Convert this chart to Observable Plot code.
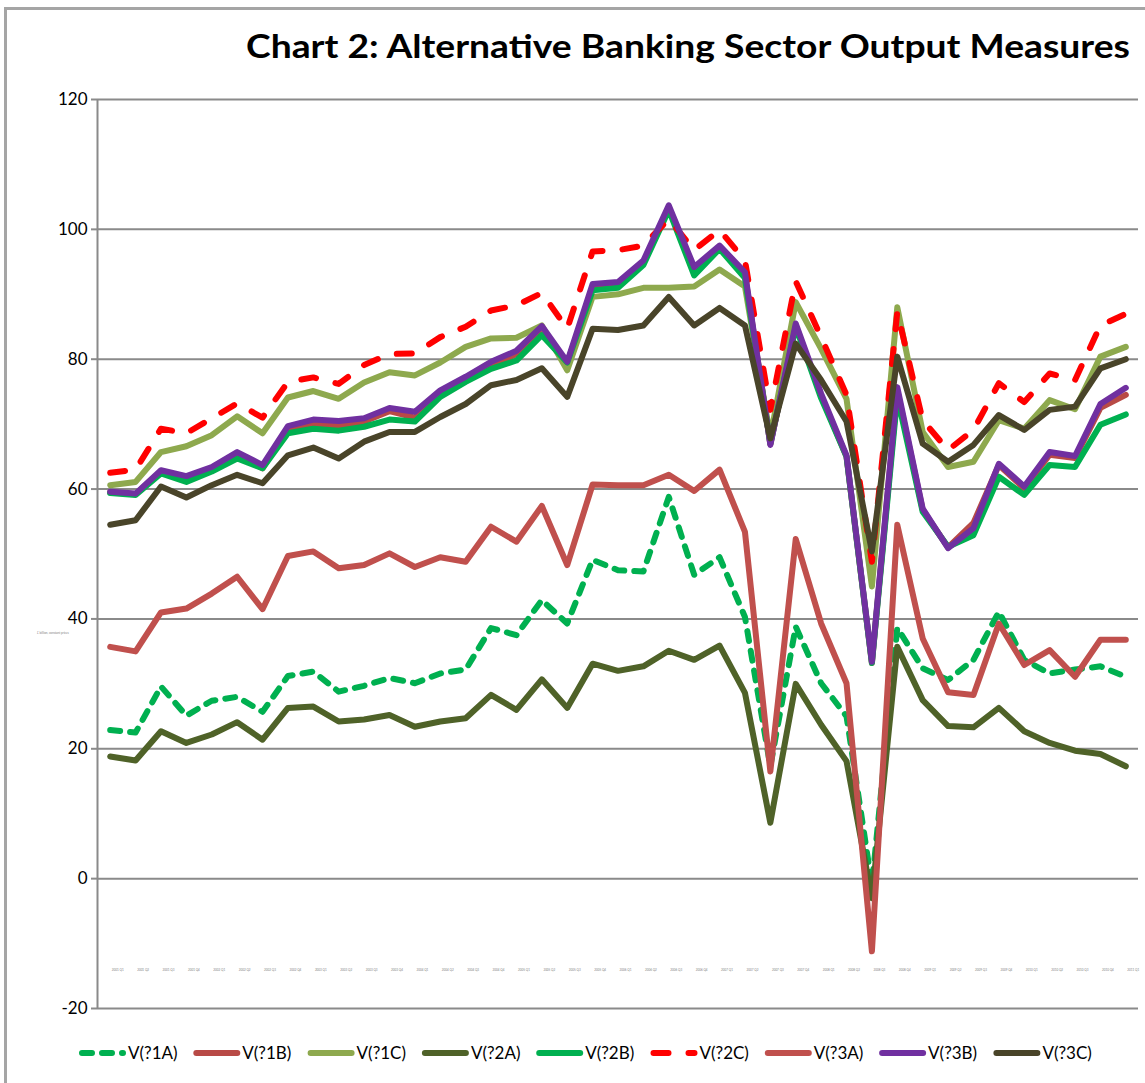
<!DOCTYPE html>
<html>
<head>
<meta charset="utf-8">
<script src="https://cdn.jsdelivr.net/npm/d3@7"></script>
<script src="https://cdn.jsdelivr.net/npm/@observablehq/plot@0.6"></script>
<style>
  body { margin: 0; background: #fff; }
  #frame { position: relative; width: 1145px; height: 1083px; overflow: hidden; background: #fff; font-family: Lato, "Open Sans", sans-serif; }
  #border { position: absolute; left: 4px; top: 7px; width: 1300px; height: 1300px; border-top: 3px solid #a5a5a5; border-left: 3px solid #a5a5a5; }
  #title { position: absolute; left: 0; top: 0; }
  #chart { position: absolute; left: 0; top: 80px; }
  #legend { position: absolute; left: 0; top: 1030px; }
  #ytitle { position: absolute; left: 0; top: 620px; }
</style>
</head>
<body>
<div id="frame">
  <div id="border"></div>
  <div id="title"></div>
  <div id="chart"></div>
  <div id="ytitle"></div>
  <div id="legend"></div>
</div>
<script>
// ---- data ----
const quarters = [
  "2001 Q1","2001 Q2","2001 Q3","2001 Q4","2002 Q1","2002 Q2","2002 Q3","2002 Q4",
  "2003 Q1","2003 Q2","2003 Q3","2003 Q4","2004 Q1","2004 Q2","2004 Q3","2004 Q4",
  "2005 Q1","2005 Q2","2005 Q3","2005 Q4","2006 Q1","2006 Q2","2006 Q3","2006 Q4",
  "2007 Q1","2007 Q2","2007 Q3","2007 Q4","2008 Q1","2008 Q2","2008 Q3","2008 Q4",
  "2009 Q1","2009 Q2","2009 Q3","2009 Q4","2010 Q1","2010 Q2","2010 Q3","2010 Q4",
  "2011 Q1"
];
const seriesNames = ["V(?1A)","V(?1B)","V(?1C)","V(?2A)","V(?2B)","V(?2C)","V(?3A)","V(?3B)","V(?3C)"];
const yTicks = [-20, 0, 20, 40, 60, 80, 100, 120];

const v1A = [22.9,22.5,29.6,25.1,27.4,28.0,25.7,31.2,31.9,28.8,29.7,30.9,30.1,31.6,32.2,38.6,37.5,42.9,39.3,49.1,47.5,47.3,58.8,46.8,49.5,40.3,17.3,38.8,30.1,25.0,-1.0,38.6,32.4,30.6,33.7,41.1,33.7,31.6,32.2,32.7,31.1];
const v1B = [59.5,59.2,62.7,61.8,63.1,65.3,63.2,69.3,70.0,69.8,70.4,72.0,71.0,74.8,76.9,79.0,80.8,84.5,79.0,91.2,91.6,94.9,103.4,93.8,97.2,93.0,66.9,85.2,74.4,65.0,33.2,75.2,56.8,51.0,54.8,63.7,60.1,65.3,64.8,72.5,74.5];
const v1C = [60.6,61.1,65.7,66.6,68.3,71.2,68.6,74.1,75.1,73.9,76.4,78.0,77.5,79.5,81.9,83.2,83.3,85.2,78.3,89.6,90.0,91.0,91.0,91.2,93.8,91.2,68.0,88.8,81.6,73.9,45.0,88.0,68.8,63.4,64.2,70.6,69.3,73.7,72.3,80.4,81.9];
const v2A = [18.8,18.2,22.7,20.9,22.2,24.1,21.4,26.3,26.5,24.2,24.5,25.2,23.4,24.2,24.7,28.3,26.0,30.7,26.3,33.1,32.0,32.7,35.1,33.7,35.9,28.6,8.6,30.0,23.7,18.1,-3.0,35.7,27.5,23.5,23.3,26.3,22.7,20.9,19.7,19.2,17.3];
const v2B = [59.4,59.1,62.4,61.1,62.7,64.7,63.2,68.6,69.3,69.0,69.6,70.7,70.4,74.2,76.5,78.5,79.8,83.7,79.5,90.6,91.0,94.5,103.0,92.9,97.0,92.5,67.0,85.0,74.0,65.0,33.2,74.2,56.5,51.1,52.9,61.9,59.1,63.7,63.4,69.9,71.5];
const v2C = [62.5,63.0,69.3,68.6,70.9,73.2,71.0,76.5,77.2,76.2,79.1,80.8,80.9,83.4,85.0,87.5,88.3,90.2,84.7,96.6,96.8,97.5,101.6,96.8,99.9,95.2,72.2,92.0,83.4,74.5,48.8,87.3,70.6,66.0,69.1,76.3,73.4,77.8,76.8,85.2,87.0];
const v3A = [35.7,35.0,41.0,41.6,43.9,46.5,41.5,49.7,50.4,47.8,48.3,50.1,48.0,49.5,48.8,54.2,51.9,57.4,48.3,60.7,60.6,60.6,62.2,59.7,63.0,53.4,16.5,52.3,39.3,30.1,-11.2,54.5,37.0,28.7,28.3,39.3,32.9,35.2,31.1,36.8,36.8];
const v3B = [59.6,59.3,62.9,62.0,63.4,65.7,63.7,69.7,70.7,70.5,70.9,72.5,71.9,75.2,77.3,79.6,81.3,85.1,79.6,91.6,91.9,95.2,103.7,94.2,97.5,93.4,66.8,85.5,74.7,65.2,33.4,75.7,57.0,50.9,54.0,63.9,60.4,65.7,65.1,73.1,75.6];
const v3C = [54.5,55.2,60.4,58.7,60.6,62.2,60.9,65.2,66.4,64.7,67.3,68.8,68.8,71.1,73.1,76.0,76.8,78.6,74.2,84.7,84.5,85.2,89.6,85.2,87.9,85.2,67.8,82.4,76.8,70.4,50.4,80.4,67.0,64.2,66.8,71.4,69.1,72.2,72.7,78.6,80.0];

// ---- styles ----
const seriesValues = [v1A, v1B, v1C, v2A, v2B, v2C, v3A, v3B, v3C];
const seriesColors = ["#00B050","#B84A46","#8EA94E","#4F6228","#00B050","#FF0000","#C0504D","#7030A0","#494429"];
const seriesDash = ["10,10", null, null, null, null, "15,20", null, null, null];
const lineWidth = 6;

const rows = seriesNames.flatMap((name, s) =>
  seriesValues[s].map((v, i) => ({series: name, s, i, q: quarters[i], v})));

const lineMarks = seriesNames.map((name, s) =>
  Plot.line(rows.filter(d => d.s === s), {
    x: "i", y: "v",
    stroke: seriesColors[s],
    strokeWidth: lineWidth,
    strokeDasharray: seriesDash[s] || undefined,
    strokeLinecap: "round",
    strokeLinejoin: "round"
  }));

const gridColor = "#8a8a8a";

const chart = Plot.plot({
  width: 1145,
  height: 950,
  marginLeft: 97,
  marginRight: 7,
  marginTop: 19,
  marginBottom: 22,
  style: {fontFamily: "Lato, 'Open Sans', sans-serif", fontSize: "17px", color: "#000", background: "transparent"},
  x: {type: "linear", domain: [-0.5, quarters.length - 0.5], axis: null},
  y: {domain: [-20, 120], axis: null},
  marks: [
    Plot.ruleY(yTicks, {stroke: gridColor, strokeWidth: 2}),
    Plot.ruleX([-0.5], {stroke: gridColor, strokeWidth: 2}),
    Plot.axisY({ticks: yTicks, tickSize: 6, tickPadding: 4, tickFormat: d => String(d), label: null,
      stroke: gridColor, strokeWidth: 2, fill: "#000", fontSize: 17}),
    Plot.text(quarters, {x: (d, i) => i, y: -14, text: d => d, fontSize: 3, fill: "#7f7f7f", dx: 7.5}),
    ...lineMarks
  ]
});
document.getElementById("chart").appendChild(chart);

// ---- title ----
const titleSvg = d3.create("svg").attr("width", 1145).attr("height", 80);
titleSvg.append("text")
  .attr("x", 246).attr("y", 58)
  .attr("textLength", 884).attr("lengthAdjust", "spacingAndGlyphs")
  .style("font-family", "Lato, 'Open Sans', sans-serif")
  .style("font-weight", "bold").style("font-size", "33px").attr("fill", "#000")
  .text("Chart 2: Alternative Banking Sector Output Measures");
document.getElementById("title").appendChild(titleSvg.node());

// ---- tiny y-axis title ----
const ySvg = d3.create("svg").attr("width", 90).attr("height", 20);
ySvg.append("text").attr("x", 53).attr("y", 14).attr("text-anchor", "middle")
  .style("font-family", "Lato, sans-serif").style("font-size", "3px").attr("fill", "#7f7f7f")
  .text("£ billion, constant prices");
document.getElementById("ytitle").appendChild(ySvg.node());

// ---- legend ----
const legSvg = d3.create("svg").attr("width", 1145).attr("height", 53);
const legX0 = 82, legPitch = 114.3, legLen = 41, legY = 23;
seriesNames.forEach((name, s) => {
  const x = legX0 + legPitch * s;
  legSvg.append("line")
    .attr("x1", x).attr("x2", x + legLen).attr("y1", legY).attr("y2", legY)
    .attr("stroke", seriesColors[s]).attr("stroke-width", lineWidth)
    .attr("stroke-linecap", "round")
    .attr("stroke-dasharray", seriesDash[s]);
  legSvg.append("text")
    .attr("x", x + legLen + 5).attr("y", legY).attr("dy", "0.36em")
    .style("font-family", "Lato, 'Open Sans', sans-serif").style("font-size", "17px")
    .attr("fill", "#000").text(name);
});
document.getElementById("legend").appendChild(legSvg.node());
</script>
</body>
</html>
